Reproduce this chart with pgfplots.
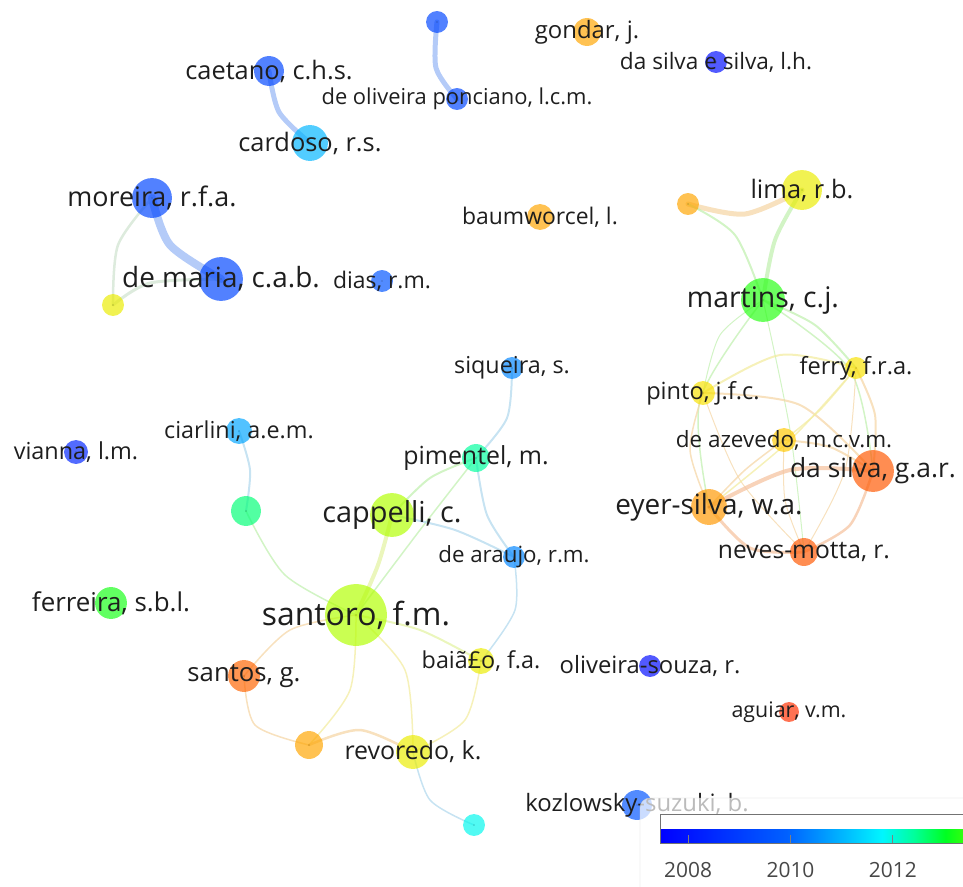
\documentclass[border=0pt]{standalone}
\usepackage{fontspec}
\setmainfont{Open Sans}
\usepackage{pgfplots}
\usepackage{pgfplotstable}
\pgfplotsset{compat=1.18}
\usetikzlibrary{calc}

\definecolor{lbl}{RGB}{30,30,30}
\definecolor{eB}{RGB}{155,185,245}
\definecolor{eC}{RGB}{180,218,238}
\definecolor{eBY}{RGB}{210,228,210}
\definecolor{eG}{RGB}{195,240,178}
\definecolor{eYG}{RGB}{228,243,165}
\definecolor{eY}{RGB}{243,236,162}
\definecolor{eO}{RGB}{245,215,168}
\definecolor{eR}{RGB}{245,196,162}

% rainbow overlay colormap, equidistant stops from 2007.45 to 2016.75
\pgfplotsset{colormap={vos}{
  rgb255=(0,0,255) rgb255=(0,24,255) rgb255=(0,49,255) rgb255=(0,73,255)
  rgb255=(0,97,255) rgb255=(0,145,255) rgb255=(0,195,255) rgb255=(0,246,255)
  rgb255=(0,255,155) rgb255=(0,255,33) rgb255=(88,255,0) rgb255=(210,255,0)
  rgb255=(255,220,0) rgb255=(255,164,0) rgb255=(255,83,0) rgb255=(255,0,0)}}

% x, y in pixels (y downwards), r = node radius, yr = avg. publication year, fs = label size
\pgfplotstableread[col sep=semicolon]{
x;y;r;yr;fs;label
437;22;11;2009.2;22;{}
457;99;11;2009.2;22;de oliveira ponciano, l.c.m.
269;71;15;2009.2;25.5;caetano, c.h.s.
310;143;18;2011.0;25.5;cardoso, r.s.
152;198;20;2009.2;27;moreira, r.f.a.
221;279;22;2009.2;28;de maria, c.a.b.
113;305;11;2014.6;22;{}
382;281;11;2009.6;23;dias, r.m.
587;32;14;2015.5;24;gondar, j.
716;62;11;2007.8;22.7;da silva e silva, l.h.
540;217;13;2015.5;23;baumworcel, l.
688;204;11;2015.5;22;{}
802;190;20;2014.6;25.5;lima, r.b.
763;300;22;2013.3;28.5;martins, c.j.
856;368;11;2014.8;23.7;ferry, f.r.a.
703;393;12;2014.8;23.7;pinto, j.f.c.
784;440;12;2015.1;22.5;de azevedo, m.c.v.m.
873;471;21;2016.1;26.5;da silva, g.a.r.
709;507;18;2015.6;28;eyer-silva, w.a.
804;552;14;2016.1;24.7;neves-motta, r.
512;368;11;2010.4;23.4;siqueira, s.
239;431;13;2010.8;23.4;ciarlini, a.e.m.
76;452;12;2008.4;23.5;vianna, l.m.
476;458;14;2012.4;25;pimentel, m.
246;511;15;2012.6;22;{}
392;515;22;2014.1;29;cappelli, c.
514;557;11;2010.4;22.4;de araujo, r.m.
111;603;16;2013.2;26;ferreira, s.b.l.
356;615;31;2014.1;32;santoro, f.m.
244;676;16;2016.0;25.8;santos, g.
481;661;13;2014.6;23.4;baiã£o, f.a.
650;666;11;2007.7;23.9;oliveira-souza, r.
789;712;10;2016.4;21.5;aguiar, v.m.
309;745;14;2015.5;22;{}
413;752;17;2014.6;25;revoredo, k.
474;825;11;2011.9;22;{}
637;805;15;2009.6;24;kozlowsky-suzuki, b.
}\vosnodes

\begin{document}
\begin{tikzpicture}
\begin{axis}[
    name=main,
    scale only axis,
    width=963bp, height=887bp,
    xmin=0, xmax=963, ymin=0, ymax=887,
    y dir=reverse,
    hide axis,
    clip=false,
    clip marker paths=true,
    colormap name=vos,
    point meta min=2007.45, point meta max=2016.75,
    colorbar horizontal,
    colorbar style={
        at={($(parent axis.south west)+(660bp,52bp)$)},
        anchor=south west,
        scale only axis,
        width=476bp, height=29bp,
        y dir=normal,
        ymin=0, ymax=1,
        enlargelimits=false,
        xtick={2008,2010,2012},
        xtick pos=left,
        xtick align=inside,
        major tick length=9bp,
        xtick style={draw=black!50, line width=1bp},
        axis line style={draw=black!55, line width=1bp},
        xticklabel style={text=black!72, font=\fontsize{21}{21}\selectfont, yshift=-15bp},
        /pgf/number format/1000 sep={},
        /pgf/number format/assume math mode=true,
    },
    lnk/.style={smooth, no markers, line cap=round, opacity=0.75},
]

% ---- links ----
\addplot[lnk, eB, line width=5bp] coordinates {(437,22) (436,68) (457,99)};
\addplot[lnk, eB, line width=5bp] coordinates {(269,71) (279,112) (310,143)};
\addplot[lnk, eB, line width=8bp] coordinates {(152,198) (170,245) (221,279)};
\addplot[lnk, eBY, line width=2.5bp] coordinates {(152,198) (118,245) (113,305)};
\addplot[lnk, eBY, line width=3bp] coordinates {(113,305) (150,283) (221,279)};
\addplot[lnk, eO, line width=5bp] coordinates {(688,204) (745,214) (802,190)};
\addplot[lnk, eG, line width=2bp] coordinates {(688,204) (735,235) (763,300)};
\addplot[lnk, eG, line width=4bp] coordinates {(802,190) (775,240) (763,300)};
% right cluster
\addplot[lnk, eG, line width=1.5bp] coordinates {(763,300) (700,400) (709,507)};
\addplot[lnk, eG, line width=1bp] coordinates {(763,300) (790,430) (804,552)};
\addplot[lnk, eG, line width=1.5bp] coordinates {(763,300) (850,370) (873,471)};
\addplot[lnk, eG, line width=2bp] coordinates {(763,300) (815,325) (856,368)};
\addplot[lnk, eG, line width=1bp] coordinates {(763,300) (720,335) (703,393)};
\addplot[lnk, eY, line width=2bp] coordinates {(703,393) (780,355) (856,368)};
\addplot[lnk, eO, line width=2bp] coordinates {(703,393) (800,405) (873,471)};
\addplot[lnk, eO, line width=1bp] coordinates {(703,393) (740,480) (804,552)};
\addplot[lnk, eO, line width=1.5bp] coordinates {(703,393) (690,450) (709,507)};
\addplot[lnk, eY, line width=1.5bp] coordinates {(856,368) (820,410) (784,440)};
\addplot[lnk, eY, line width=1.5bp] coordinates {(856,368) (790,440) (709,507)};
\addplot[lnk, eO, line width=2bp] coordinates {(856,368) (875,415) (873,471)};
\addplot[lnk, eO, line width=1bp] coordinates {(856,368) (845,470) (804,552)};
\addplot[lnk, eO, line width=1.5bp] coordinates {(784,440) (745,470) (709,507)};
\addplot[lnk, eO, line width=2bp] coordinates {(784,440) (830,447) (873,471)};
\addplot[lnk, eO, line width=1bp] coordinates {(784,440) (785,500) (804,552)};
\addplot[lnk, eR, line width=4bp] coordinates {(709,507) (790,470) (873,471)};
\addplot[lnk, eR, line width=3bp] coordinates {(709,507) (750,548) (804,552)};
\addplot[lnk, eR, line width=2.5bp] coordinates {(873,471) (850,525) (804,552)};
% middle cluster
\addplot[lnk, eC, line width=2bp] coordinates {(239,431) (250,470) (246,511)};
\addplot[lnk, eG, line width=1.5bp] coordinates {(246,511) (285,575) (356,615)};
\addplot[lnk, eC, line width=2bp] coordinates {(512,368) (507,418) (476,458)};
\addplot[lnk, eG, line width=2bp] coordinates {(476,458) (430,478) (392,515)};
\addplot[lnk, eC, line width=2bp] coordinates {(476,458) (487,515) (514,557)};
\addplot[lnk, eG, line width=1.5bp] coordinates {(476,458) (420,530) (356,615)};
\addplot[lnk, eC, line width=2bp] coordinates {(392,515) (455,530) (514,557)};
\addplot[lnk, eYG, line width=4bp] coordinates {(392,515) (378,565) (356,615)};
\addplot[lnk, eC, line width=1.5bp] coordinates {(514,557) (515,610) (481,661)};
\addplot[lnk, eYG, line width=2bp] coordinates {(356,615) (420,630) (481,661)};
\addplot[lnk, eO, line width=1.5bp] coordinates {(356,615) (290,630) (244,676)};
\addplot[lnk, eY, line width=1.5bp] coordinates {(356,615) (350,690) (309,745)};
\addplot[lnk, eY, line width=1.5bp] coordinates {(356,615) (405,670) (413,752)};
\addplot[lnk, eO, line width=1.5bp] coordinates {(244,676) (255,725) (309,745)};
\addplot[lnk, eO, line width=2.5bp] coordinates {(309,745) (360,730) (413,752)};
\addplot[lnk, eY, line width=1.5bp] coordinates {(481,661) (465,720) (413,752)};
\addplot[lnk, eC, line width=1.5bp] coordinates {(413,752) (430,800) (474,825)};

% ---- nodes ----
\addplot[scatter, only marks, mark=*,
    scatter src=explicit,
    scatter/use mapped color={draw opacity=0, fill=mapped color, fill opacity=0.68},
    visualization depends on={\thisrow{r}\as\rad},
    scatter/@pre marker code/.append style={/tikz/mark size=\rad},
] table[x=x, y=y, meta=yr] {\vosnodes};

% ---- labels ----
\addplot[only marks, mark=*, mark size=0.01pt, mark options={draw=none, fill=none},
    point meta=explicit symbolic,
    nodes near coords,
    visualization depends on={\thisrow{fs}\as\fsz},
    every node near coord/.append style={anchor=center, inner sep=0pt, text=lbl,
        font=\fontsize{\fsz}{\fsz}\selectfont},
] table[x=x, y=y, meta=label] {\vosnodes};

% legend panel
\draw[draw=black!18, fill=white, fill opacity=0.7, rounded corners=10bp]
    (axis cs:640,798) rectangle (axis cs:1010,920);
\end{axis}
\pgfresetboundingbox
\useasboundingbox (main.south west) rectangle (main.north east);
\end{tikzpicture}
\end{document}
